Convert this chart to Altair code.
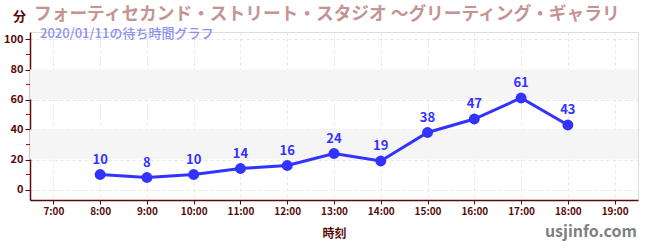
import altair as alt
import pandas as pd

hours = [8, 9, 10, 11, 12, 13, 14, 15, 16, 17, 18]
waits = [10, 8, 10, 14, 16, 24, 19, 38, 47, 61, 43]
band_lo = [20, 60]
band_hi = [40, 80]
minor_ticks = [10, 30, 50, 70, 90]
x_ticks = list(range(7, 20))
y_ticks = [0, 20, 40, 60, 80, 100]

title_text = "フォーティセカンド・ストリート・スタジオ ～グリーティング・ギャラリ"
subtitle_text = "2020/01/11の待ち時間グラフ"

FONT = "Noto Sans CJK JP"
MAROON = "#5a0a0a"
BLUE = "#3333ff"

df = pd.DataFrame({"hour": hours, "wait": waits})
bands = pd.DataFrame({"lo": band_lo, "hi": band_hi})
minors = pd.DataFrame({"v": minor_ticks})
one = pd.DataFrame({"a": [0]})

W, H = 608, 168
xscale = alt.Scale(domain=[6.5, 19.5], nice=False, zero=False)
yscale = alt.Scale(domain=[-7, 105], nice=False, zero=False)

xaxis = alt.Axis(
    values=x_ticks,
    labelExpr="datum.value + ':00'",
    labelOverlap=False,
    title="時刻",
    titleFont=FONT,
    titleFontSize=12,
    titleFontWeight="bold",
    titleColor=MAROON,
    titlePadding=12,
    labelFont=FONT,
    labelFontSize=10,
    labelFontWeight="bold",
    labelColor=MAROON,
    domainColor=MAROON,
    domainWidth=1.5,
    tickColor=MAROON,
    tickSize=4,
    grid=True,
    gridDash=[3, 3],
    gridColor="#e6e6e6",
)
yaxis = alt.Axis(
    values=y_ticks,
    labelOverlap=False,
    title=None,
    labelFont=FONT,
    labelFontSize=11,
    labelFontWeight="bold",
    labelColor=MAROON,
    domainColor=MAROON,
    domainWidth=1.5,
    tickColor=MAROON,
    tickSize=5,
    labelPadding=2,
    grid=True,
    gridDash=[3, 3],
    gridColor="#e6e6e6",
)

band_layer = alt.Chart(bands).mark_rect(color="#f5f5f5").encode(
    y=alt.Y("lo:Q", scale=yscale, axis=yaxis),
    y2="hi:Q",
    x=alt.value(0),
    x2=alt.value(W),
)

minor_layer = alt.Chart(minors).mark_rule(color="#cc0000", strokeWidth=1).encode(
    y=alt.Y("v:Q", scale=yscale, axis=yaxis),
    x=alt.value(-4),
    x2=alt.value(0),
)

enc = dict(
    x=alt.X("hour:Q", scale=xscale, axis=xaxis),
    y=alt.Y("wait:Q", scale=yscale, axis=yaxis),
)

line = alt.Chart(df).mark_line(color=BLUE, strokeWidth=3).encode(**enc)

points = alt.Chart(df).mark_circle(color=BLUE, size=120, opacity=1).encode(**enc)

labels = alt.Chart(df).mark_text(
    color=BLUE, font=FONT, fontSize=13, fontWeight="bold", dy=-15
).encode(text="wait:Q", **enc)

unit_text = alt.Chart(one).mark_text(
    text="分", font=FONT, fontSize=13, fontWeight="bold", color=MAROON, align="left", baseline="middle"
).encode(x=alt.value(-17), y=alt.value(-15))

title_layer = alt.Chart(one).mark_text(
    text=title_text, font=FONT, fontSize=17.7, fontWeight="bold", color="#c49494", align="left", baseline="middle"
).encode(x=alt.value(4), y=alt.value(-17))

subtitle_layer = alt.Chart(one).mark_text(
    text=subtitle_text, font=FONT, fontSize=13, fontWeight=500, color="#8f8ff5", align="left", baseline="middle"
).encode(x=alt.value(10), y=alt.value(2))

site_layer = alt.Chart(one).mark_text(
    text="usjinfo.com", font=FONT, fontSize=16, fontWeight="bold", color="#808080", align="right", baseline="middle"
).encode(x=alt.value(607), y=alt.value(200))

chart = alt.layer(
    band_layer, minor_layer, line, points, labels, unit_text, title_layer, subtitle_layer, site_layer
).properties(
    width=W,
    height=H,
    autosize=alt.AutoSizeParams(type="none"),
    padding={"left": 30, "top": 32, "right": 12, "bottom": 50},
).configure_view(stroke=None).configure(background="white")

chart.save("out.html", embed_options={"renderer": "svg", "actions": False})
